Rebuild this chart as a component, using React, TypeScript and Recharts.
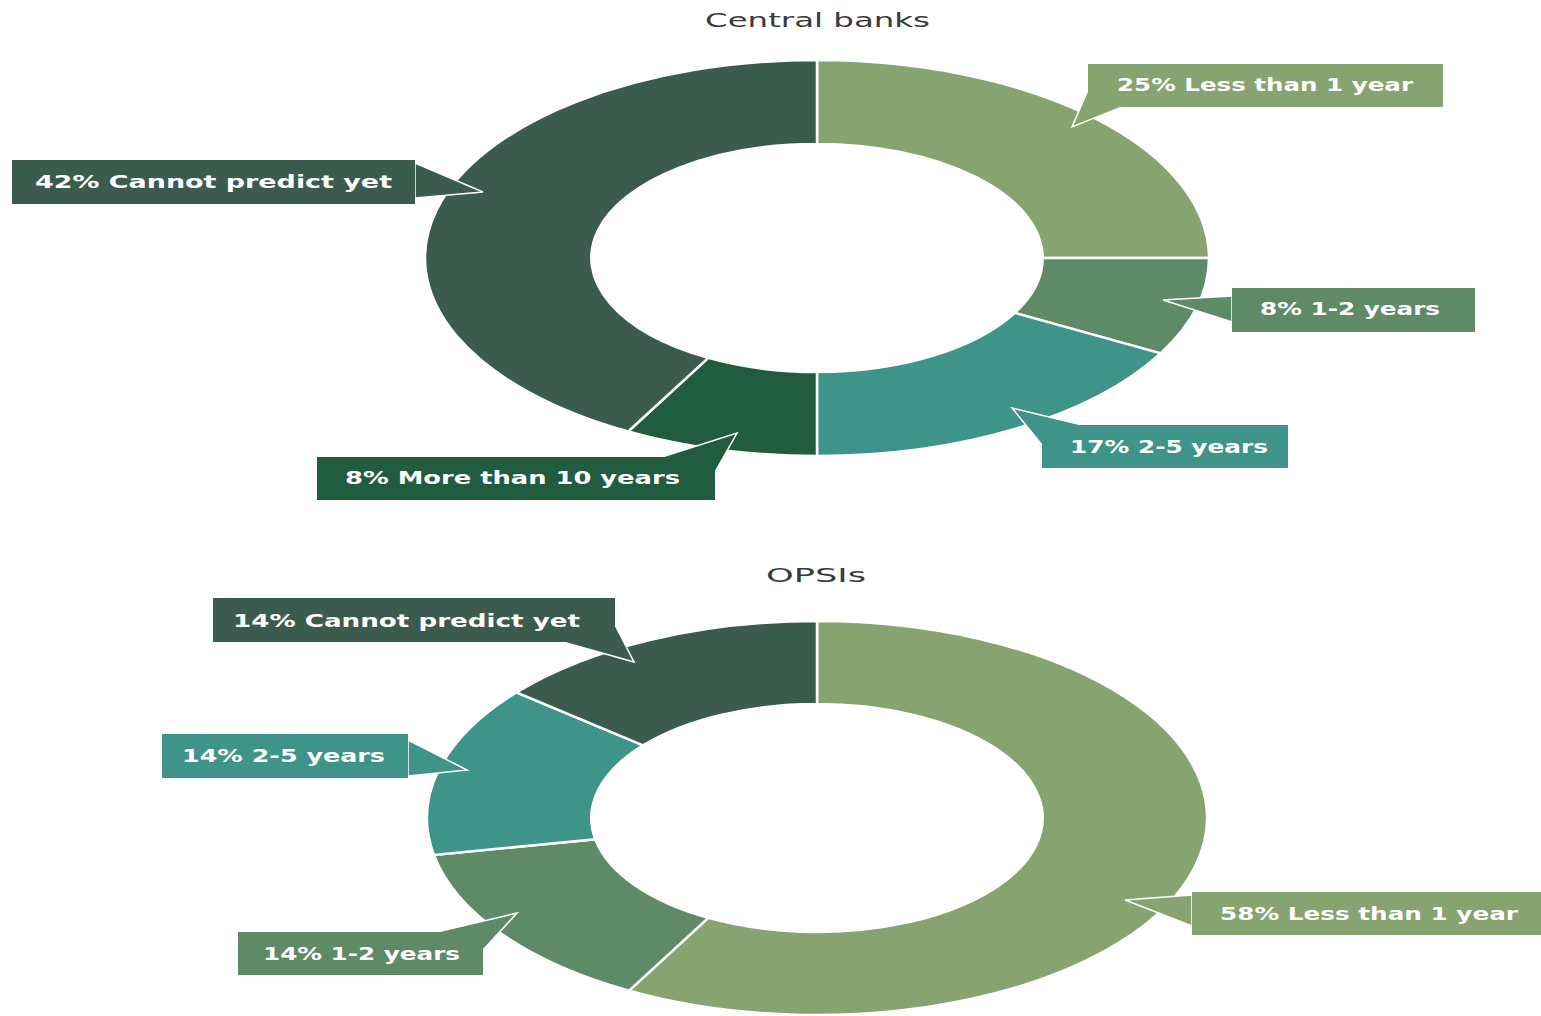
import { PieChart, Pie, Cell } from "recharts";

// Survey: expected time horizon, per respondent group
const CATEGORIES_CB = ["Less than 1 year", "1-2 years", "2-5 years", "More than 10 years", "Cannot predict yet"];
const VALUES_CB = [25, 8, 17, 8, 42];

const CATEGORIES_OPSI = ["Less than 1 year", "1-2 years", "2-5 years", "Cannot predict yet"];
const VALUES_OPSI = [58, 14, 14, 14];

const COLORS: Record<string, string> = {
    "Less than 1 year": "#87a370",
    "1-2 years": "#5e8a68",
    "2-5 years": "#3e9488",
    "More than 10 years": "#215c3f",
    "Cannot predict yet": "#3c5b4f",
};

const cbData = CATEGORIES_CB.map((name, i) => ({ name, value: VALUES_CB[i] }));
const opsiData = CATEGORIES_OPSI.map((name, i) => ({ name, value: VALUES_OPSI[i] }));

// The donuts in the original are stretched horizontally
const RX = 392;
const RY = 198;
const K = RX / RY;
const RAD = Math.PI / 180;

type Callout = {
    box: [number, number, number, number];
    tail: [number, number][];
    tx: number;
    ty: number;
    tw: number;
};

// callout boxes, in the same order as the data
const CB_CALLOUTS: Callout[] = [
    { box: [1088, 64, 355, 43], tail: [[1088, 90], [1072, 127], [1122, 107]], tx: 1117, ty: 91, tw: 296 },
    { box: [1232, 288, 243, 44], tail: [[1232, 296], [1163, 300], [1232, 322]], tx: 1260, ty: 315, tw: 180 },
    { box: [1042, 425, 246, 43], tail: [[1042, 445], [1012, 408], [1082, 425]], tx: 1070, ty: 453, tw: 198 },
    { box: [317, 457, 398, 43], tail: [[662, 457], [737, 433], [715, 472]], tx: 345, ty: 484, tw: 335 },
    { box: [12, 160, 403, 44], tail: [[415, 163], [483, 192], [415, 198]], tx: 35, ty: 188, tw: 357 },
];

const OPSI_CALLOUTS: Callout[] = [
    { box: [1192, 892, 349, 43], tail: [[1192, 895], [1125, 900], [1192, 926]], tx: 1220, ty: 920, tw: 298 },
    { box: [238, 932, 245, 43], tail: [[437, 932], [517, 913], [483, 950]], tx: 263, ty: 960, tw: 197 },
    { box: [162, 734, 246, 44], tail: [[408, 740], [467, 770], [408, 776]], tx: 182, ty: 762, tw: 203 },
    { box: [213, 598, 402, 44], tail: [[563, 642], [634, 662], [615, 625]], tx: 233, ty: 627, tw: 347 },
];

function EllipseSector(props: any) {
    const { cx, cy, innerRadius, outerRadius, startAngle, endAngle, fill } = props;
    const pt = (r: number, a: number) => `${cx + K * r * Math.cos(a * RAD)},${cy - r * Math.sin(a * RAD)}`;
    const large = Math.abs(startAngle - endAngle) > 180 ? 1 : 0;
    const d = [
        `M${pt(outerRadius, startAngle)}`,
        `A${K * outerRadius},${outerRadius} 0 ${large} 1 ${pt(outerRadius, endAngle)}`,
        `L${pt(innerRadius, endAngle)}`,
        `A${K * innerRadius},${innerRadius} 0 ${large} 0 ${pt(innerRadius, startAngle)}`,
        "Z",
    ].join(" ");
    return <path d={d} fill={fill} stroke="#ffffff" strokeWidth={2.5} strokeLinejoin="miter" />;
}

const makeLabel = (callouts: Callout[]) => (props: any) => {
    const c = callouts[props.index];
    if (!c) return null;
    const name = props.name ?? props.payload?.name;
    const fill = COLORS[name];
    const [x, y, w, h] = c.box;
    return (
        <g key={`lbl-${props.index}`}>
            <polygon points={c.tail.map((p) => p.join(",")).join(" ")} fill={fill} stroke="#ffffff" strokeWidth={1.5} />
            <rect x={x} y={y} width={w} height={h} fill={fill} />
            <text
                x={c.tx}
                y={c.ty}
                fill="#ffffff"
                fontFamily="'DejaVu Sans', sans-serif"
                fontWeight="bold"
                fontSize={18}
                textLength={c.tw}
                lengthAdjust="spacingAndGlyphs"
            >
                {`${props.value}% ${name}`}
            </text>
        </g>
    );
};

export default function App() {
    return (
        <div style={{ position: "absolute", left: 0, top: 0, width: 1541, height: 1016, background: "#fff" }}>
            <PieChart width={1541} height={1016} margin={{ top: 0, right: 0, bottom: 0, left: 0 }}>
                <Pie
                    data={cbData}
                    dataKey="value"
                    nameKey="name"
                    cx={817}
                    cy={258}
                    outerRadius={RY}
                    innerRadius={114}
                    startAngle={90}
                    endAngle={-270}
                    shape={EllipseSector}
                    activeShape={EllipseSector}
                    inactiveShape={EllipseSector}
                    label={makeLabel(CB_CALLOUTS)}
                    labelLine={false}
                    isAnimationActive={false}
                    rootTabIndex={-1}
                >
                    {cbData.map((d) => (
                        <Cell key={d.name} fill={COLORS[d.name]} />
                    ))}
                </Pie>
                <Pie
                    data={opsiData}
                    dataKey="value"
                    nameKey="name"
                    cx={817}
                    cy={818}
                    outerRadius={RY - 1}
                    innerRadius={114}
                    startAngle={90}
                    endAngle={-270}
                    shape={EllipseSector}
                    activeShape={EllipseSector}
                    inactiveShape={EllipseSector}
                    label={makeLabel(OPSI_CALLOUTS)}
                    labelLine={false}
                    isAnimationActive={false}
                    rootTabIndex={-1}
                >
                    {opsiData.map((d) => (
                        <Cell key={d.name} fill={COLORS[d.name]} />
                    ))}
                </Pie>
            </PieChart>
            <svg width={1541} height={1016} style={{ position: "absolute", left: 0, top: 0, pointerEvents: "none" }}>
                <text x={705} y={27} fill="#3a3a3a" fontFamily="'DejaVu Sans', sans-serif" fontSize={20}
                      textLength={225} lengthAdjust="spacingAndGlyphs">Central banks</text>
                <text x={766} y={582} fill="#3a3a3a" fontFamily="'DejaVu Sans', sans-serif" fontSize={20}
                      textLength={100} lengthAdjust="spacingAndGlyphs">OPSIs</text>
            </svg>
        </div>
    );
}
